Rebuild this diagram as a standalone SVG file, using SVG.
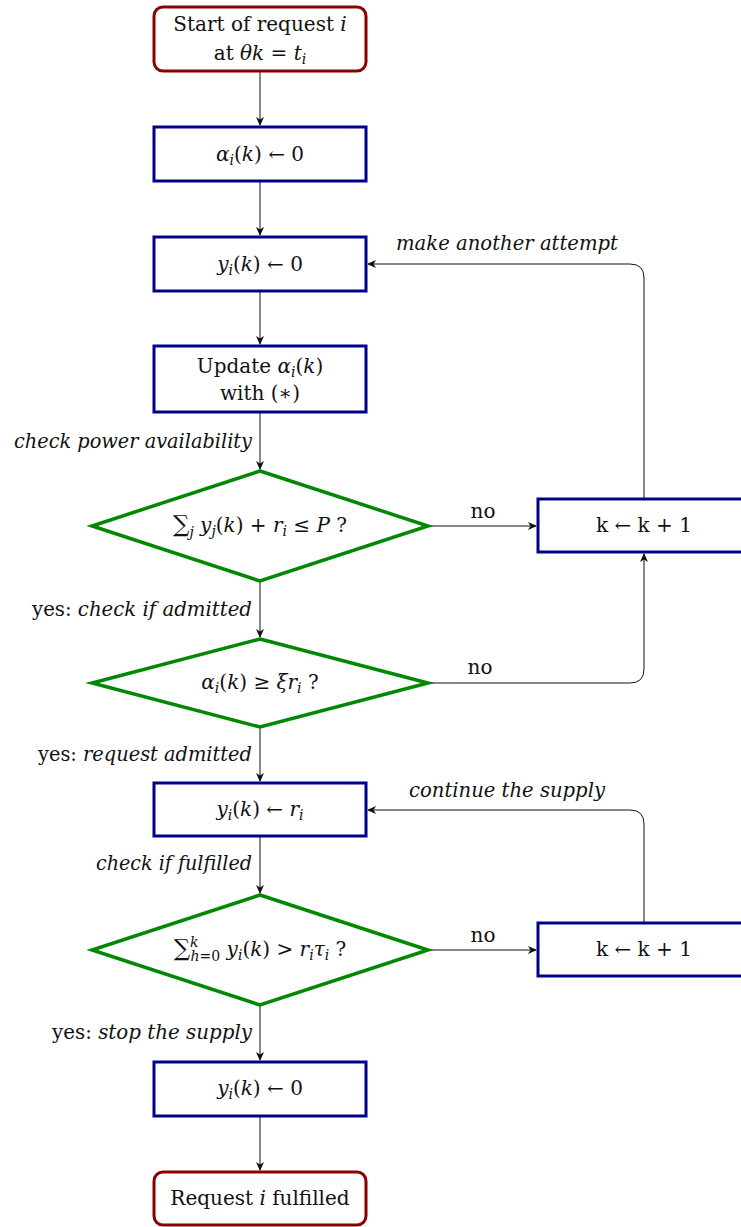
<svg xmlns="http://www.w3.org/2000/svg" width="741" height="1227" viewBox="0 0 741 1227">
<style>
text{font-family:"DejaVu Serif","Liberation Serif",serif;font-size:20px;fill:#111}
.c{text-anchor:middle}
.r{text-anchor:end}
.i{font-style:italic}
.s{font-size:14px;font-style:italic}
.term{fill:#fff;stroke:#8b0000;stroke-width:3}
.proc{fill:#fff;stroke:#00008b;stroke-width:3}
.dec{fill:#fff;stroke:#008800;stroke-width:3.5}
.ln{fill:none;stroke:#111;stroke-width:1}
</style>
<defs>
<marker id="ah" markerWidth="10" markerHeight="10" refX="8" refY="5" orient="auto" markerUnits="userSpaceOnUse">
<path d="M0,1 L9,5 L0,9 L2.5,5 Z" fill="#111"/>
</marker>
</defs>
<g id="connectors">
<path class="ln" d="M260,71 V125" marker-end="url(#ah)"/>
<path class="ln" d="M260,181 V235" marker-end="url(#ah)"/>
<path class="ln" d="M260,291 V344" marker-end="url(#ah)"/>
<path class="ln" d="M260,412 V469" marker-end="url(#ah)"/>
<path class="ln" d="M260,581 V637" marker-end="url(#ah)"/>
<path class="ln" d="M260,727 V781" marker-end="url(#ah)"/>
<path class="ln" d="M260,836 V893" marker-end="url(#ah)"/>
<path class="ln" d="M260,1005 V1060" marker-end="url(#ah)"/>
<path class="ln" d="M260,1116 V1170" marker-end="url(#ah)"/>
<path class="ln" d="M428,526 H536" marker-end="url(#ah)"/>
<path class="ln" d="M644,498 V278 Q644,264 630,264 H368" marker-end="url(#ah)"/>
<path class="ln" d="M428,683 H630 Q644,683 644,669 V554" marker-end="url(#ah)"/>
<path class="ln" d="M428,950 H536" marker-end="url(#ah)"/>
<path class="ln" d="M644,922 V824 Q644,810 630,810 H368" marker-end="url(#ah)"/>
<text class="c" x="483" y="518">no</text>
<text class="c" x="480" y="674">no</text>
<text class="c" x="483" y="942">no</text>
<text class="c i" x="507" y="250" textLength="222" lengthAdjust="spacingAndGlyphs">make another attempt</text>
<text class="c i" x="507" y="797" textLength="196" lengthAdjust="spacingAndGlyphs">continue the supply</text>
<text class="r i" x="252" y="448" textLength="238" lengthAdjust="spacingAndGlyphs">check power availability</text>
<text class="r" x="252" y="616" textLength="220" lengthAdjust="spacingAndGlyphs"><tspan>yes: </tspan><tspan class="i">check if admitted</tspan></text>
<text class="r" x="252" y="761" textLength="214" lengthAdjust="spacingAndGlyphs"><tspan>yes: </tspan><tspan class="i">request admitted</tspan></text>
<text class="r i" x="252" y="870" textLength="156" lengthAdjust="spacingAndGlyphs">check if fulfilled</text>
<text class="r" x="252" y="1039" textLength="200" lengthAdjust="spacingAndGlyphs"><tspan>yes: </tspan><tspan class="i">stop the supply</tspan></text>
</g>
<g id="start">
<rect class="term" x="154" y="7" width="212" height="64" rx="9"/>
<text class="c" x="260" y="31">Start of request <tspan class="i">i</tspan></text>
<text class="c" x="260" y="60">at <tspan class="i">θk</tspan> = <tspan class="i">t</tspan><tspan class="s" dy="4">i</tspan></text>
</g>
<g id="alpha0">
<rect class="proc" x="154" y="127" width="212" height="54"/>
<text class="c" x="260" y="161"><tspan class="i">α</tspan><tspan class="s" dy="4">i</tspan><tspan dy="-4">(</tspan><tspan class="i">k</tspan>) ← 0</text>
</g>
<g id="y0a">
<rect class="proc" x="154" y="237" width="212" height="54"/>
<text class="c" x="260" y="271"><tspan class="i">y</tspan><tspan class="s" dy="4">i</tspan><tspan dy="-4">(</tspan><tspan class="i">k</tspan>) ← 0</text>
</g>
<g id="update">
<rect class="proc" x="154" y="346" width="212" height="66"/>
<text class="c" x="260" y="373">Update <tspan class="i">α</tspan><tspan class="s" dy="4">i</tspan><tspan dy="-4">(</tspan><tspan class="i">k</tspan>)</text>
<text class="c" x="260" y="400">with (∗)</text>
</g>
<g id="dec1">
<polygon class="dec" points="260,471 428,526 260,581 92,526"/>
<text class="c" x="260" y="532"><tspan font-size="23">∑</tspan><tspan class="s" dy="5">j</tspan><tspan class="i" dy="-5"> y</tspan><tspan class="s" dy="4">j</tspan><tspan dy="-4">(</tspan><tspan class="i">k</tspan>) + <tspan class="i">r</tspan><tspan class="s" dy="4">i</tspan><tspan dy="-4"> ≤ </tspan><tspan class="i">P</tspan> ?</text>
</g>
<g id="inc1">
<rect class="proc" x="538" y="499" width="212" height="53"/>
<text class="c" x="644" y="532">k ← k + 1</text>
</g>
<g id="dec2">
<polygon class="dec" points="260,639 428,683 260,727 92,683"/>
<text class="c" x="260" y="689"><tspan class="i">α</tspan><tspan class="s" dy="4">i</tspan><tspan dy="-4">(</tspan><tspan class="i">k</tspan>) ≥ <tspan class="i">ξr</tspan><tspan class="s" dy="4">i</tspan><tspan dy="-4"> ?</tspan></text>
</g>
<g id="yr">
<rect class="proc" x="154" y="783" width="212" height="53"/>
<text class="c" x="260" y="816"><tspan class="i">y</tspan><tspan class="s" dy="4">i</tspan><tspan dy="-4">(</tspan><tspan class="i">k</tspan>) ← <tspan class="i">r</tspan><tspan class="s" dy="4">i</tspan></text>
</g>
<g id="dec3">
<polygon class="dec" points="260,895 428,950 260,1005 92,950"/>
<text class="c" x="260" y="956"><tspan font-size="23">∑</tspan><tspan class="s" dy="-9">k</tspan><tspan font-size="14" dx="-8" dy="14"><tspan class="i">h</tspan>=0</tspan><tspan class="i" dy="-5"> y</tspan><tspan class="s" dy="4">i</tspan><tspan dy="-4">(</tspan><tspan class="i">k</tspan>) &gt; <tspan class="i">r</tspan><tspan class="s" dy="4">i</tspan><tspan class="i" dy="-4">τ</tspan><tspan class="s" dy="4">i</tspan><tspan dy="-4"> ?</tspan></text>
</g>
<g id="inc2">
<rect class="proc" x="538" y="923" width="212" height="53"/>
<text class="c" x="644" y="956">k ← k + 1</text>
</g>
<g id="y0b">
<rect class="proc" x="154" y="1062" width="212" height="54"/>
<text class="c" x="260" y="1095"><tspan class="i">y</tspan><tspan class="s" dy="4">i</tspan><tspan dy="-4">(</tspan><tspan class="i">k</tspan>) ← 0</text>
</g>
<g id="end">
<rect class="term" x="154" y="1172" width="212" height="53" rx="9"/>
<text class="c" x="260" y="1205">Request <tspan class="i">i</tspan> fulfilled</text>
</g>
</svg>
